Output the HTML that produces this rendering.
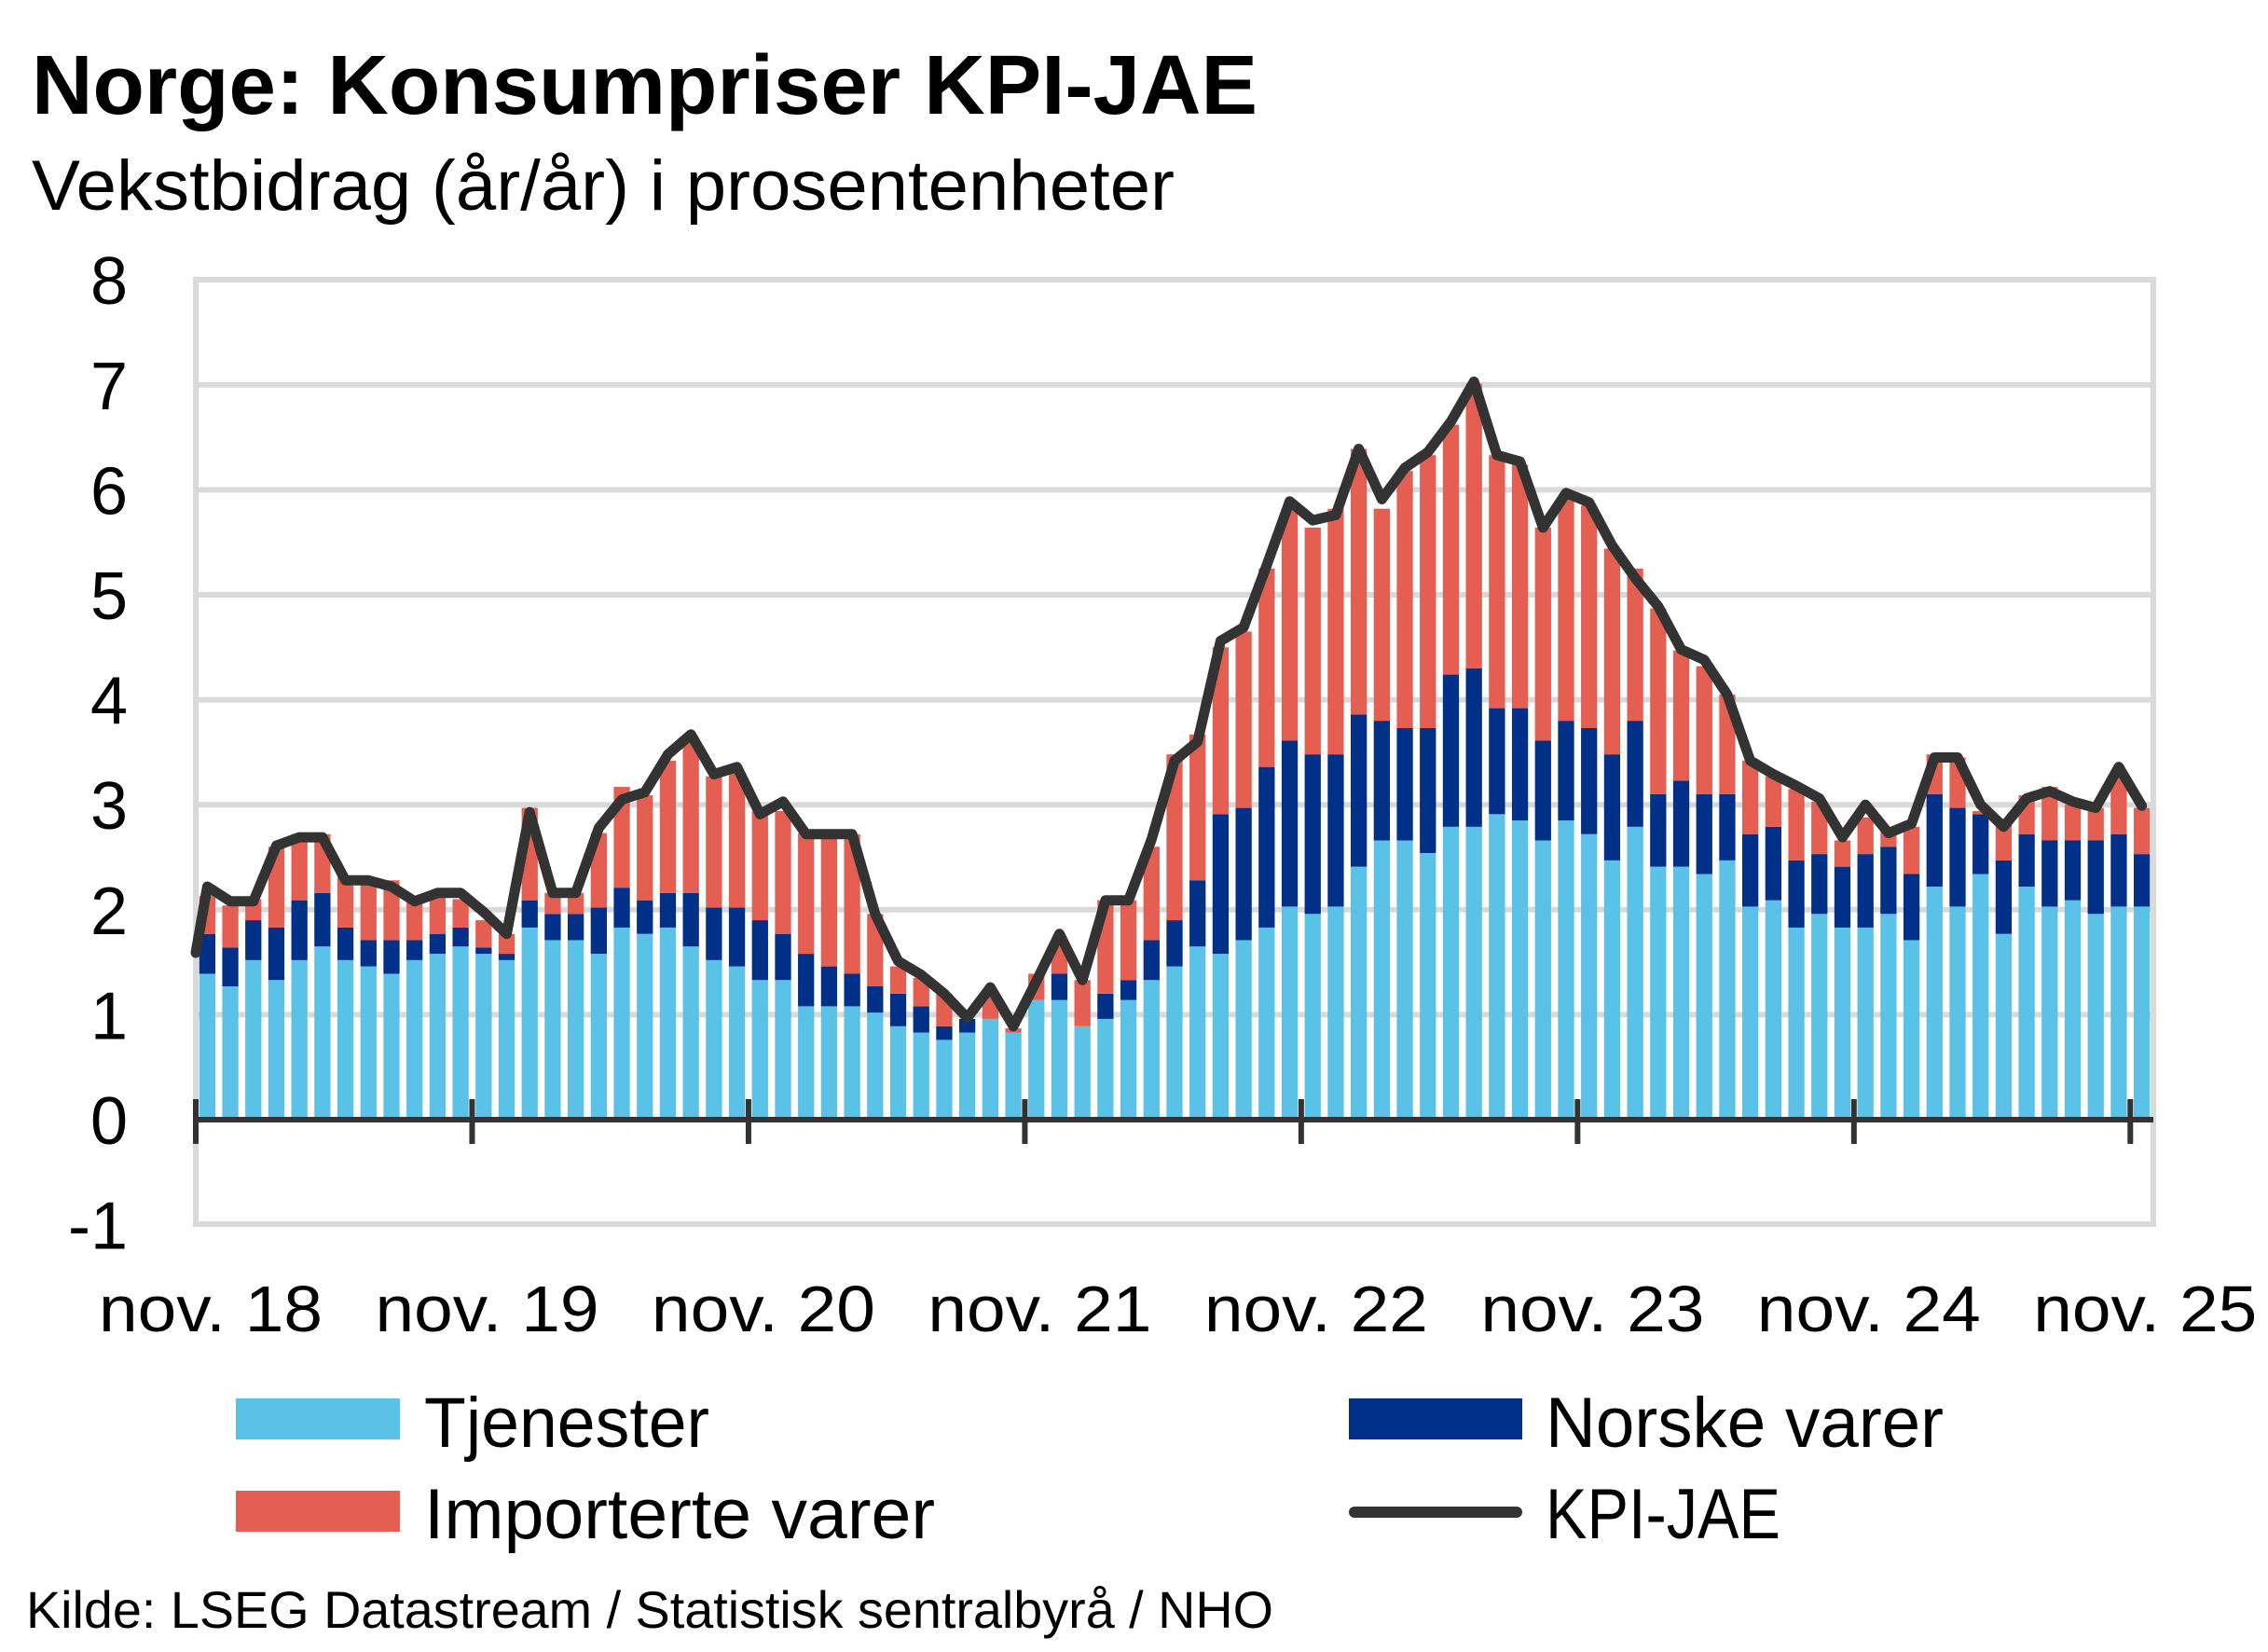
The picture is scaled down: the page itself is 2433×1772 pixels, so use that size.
<!DOCTYPE html>
<html><head><meta charset="utf-8">
<style>
html,body{margin:0;padding:0;background:#fff;}
svg{display:block;font-family:"Liberation Sans",sans-serif;}
</style></head>
<body>
<svg id="c" width="2433" height="1772" viewBox="0 0 2433 1772" xmlns="http://www.w3.org/2000/svg">
<rect width="2433" height="1772" fill="#fff"/>
<text x="34" y="122" font-size="90" font-weight="bold" fill="#000" textLength="1315" lengthAdjust="spacingAndGlyphs">Norge:  Konsumpriser KPI-JAE</text>
<text x="34" y="225" font-size="76" fill="#000" textLength="1226" lengthAdjust="spacingAndGlyphs">Vekstbidrag (år/år) i prosentenheter</text>
<g id="grid"></g>
<g id="bars"></g>
<rect x="210" y="300" width="2100" height="1013" fill="none" stroke="#d9d9d9" stroke-width="6"/>
<g id="axis"></g>
<g id="line"></g>
<g id="ylab" font-size="72" fill="#000" text-anchor="end"></g>
<g id="xlab" font-size="70" fill="#000" text-anchor="middle"></g>
<rect x="253" y="1500" width="176" height="44" fill="#5BC2E7"/>
<text x="455" y="1552" font-size="76" textLength="306" lengthAdjust="spacingAndGlyphs">Tjenester</text>
<rect x="253" y="1599" width="176" height="44" fill="#E45F52"/>
<text x="455" y="1650" font-size="76" textLength="548" lengthAdjust="spacingAndGlyphs">Importerte varer</text>
<rect x="1447" y="1500" width="186" height="44" fill="#003087"/>
<text x="1658" y="1552" font-size="76" textLength="427" lengthAdjust="spacingAndGlyphs">Norske varer</text>
<line x1="1453" y1="1622" x2="1627" y2="1622" stroke="#333" stroke-width="12" stroke-linecap="round"/>
<text x="1658" y="1650" font-size="76" textLength="252" lengthAdjust="spacingAndGlyphs">KPI-JAE</text>
<text x="28" y="1746" font-size="56" textLength="1338" lengthAdjust="spacingAndGlyphs">Kilde: LSEG Datastream / Statistisk sentralbyrå / NHO</text>
</svg>
<script>
var T=[1.39,1.27,1.52,1.33,1.52,1.65,1.52,1.46,1.39,1.52,1.58,1.65,1.58,1.52,1.83,1.71,1.71,1.58,1.83,1.77,1.83,1.65,1.52,1.46,1.33,1.33,1.08,1.08,1.08,1.02,0.89,0.83,0.76,0.83,0.96,0.83,1.14,1.14,0.89,0.96,1.14,1.33,1.46,1.65,1.58,1.71,1.83,2.03,1.96,2.03,2.41,2.66,2.66,2.54,2.79,2.79,2.91,2.85,2.66,2.85,2.72,2.47,2.79,2.41,2.41,2.34,2.47,2.03,2.09,1.83,1.96,1.83,1.83,1.96,1.71,2.22,2.03,2.34,1.77,2.22,2.03,2.09,1.96,2.03,2.03];
var N=[1.77,1.64,1.90,1.83,2.09,2.16,1.83,1.71,1.71,1.71,1.77,1.83,1.64,1.58,2.09,1.96,1.96,2.02,2.21,2.09,2.16,2.16,2.02,2.02,1.90,1.77,1.58,1.46,1.39,1.27,1.20,1.08,0.89,0.96,0.96,0.83,1.14,1.39,0.89,1.20,1.33,1.71,1.90,2.28,2.91,2.97,3.36,3.61,3.48,3.48,3.86,3.80,3.73,3.73,4.24,4.30,3.92,3.92,3.61,3.80,3.73,3.48,3.80,3.10,3.23,3.10,3.10,2.72,2.79,2.47,2.53,2.41,2.53,2.60,2.34,3.10,2.97,2.91,2.47,2.72,2.66,2.66,2.66,2.72,2.53];
var I=[2.13,2.04,2.10,2.60,2.72,2.72,2.31,2.25,2.28,2.10,2.16,2.10,1.90,1.77,2.97,2.16,2.16,2.73,3.17,3.09,3.42,3.60,3.27,3.30,2.94,2.94,2.73,2.72,2.72,1.96,1.46,1.35,1.20,0.96,1.20,0.87,1.39,1.65,1.33,2.09,2.09,2.60,3.48,3.67,4.50,4.65,5.25,5.82,5.64,5.82,6.39,5.82,6.18,6.33,6.62,7.01,6.33,6.24,5.64,5.94,5.85,5.44,5.25,4.87,4.47,4.32,4.05,3.42,3.27,3.15,3.03,2.66,2.88,2.76,2.79,3.48,3.45,2.94,2.82,3.09,3.17,3.00,2.97,3.30,2.97];
var L=[2.22,2.08,2.08,2.61,2.69,2.69,2.28,2.28,2.22,2.08,2.16,2.16,1.98,1.77,2.93,2.16,2.16,2.78,3.05,3.12,3.48,3.67,3.29,3.36,2.91,3.03,2.72,2.72,2.72,1.96,1.51,1.38,1.20,0.97,1.26,0.89,1.32,1.77,1.33,2.09,2.09,2.67,3.42,3.60,4.56,4.69,5.28,5.89,5.71,5.76,6.39,5.91,6.21,6.36,6.65,7.03,6.33,6.27,5.64,5.97,5.88,5.47,5.16,4.89,4.48,4.38,4.05,3.42,3.29,3.18,3.06,2.69,3.00,2.73,2.82,3.45,3.45,3.00,2.79,3.06,3.13,3.03,2.97,3.36,2.99];
var NS="http://www.w3.org/2000/svg";
function el(p,t,a,txt){var e=document.createElementNS(NS,t);for(var k in a)e.setAttribute(k,a[k]);if(txt!==undefined)e.textContent=txt;document.getElementById(p).appendChild(e);return e;}
var X0=210,W=2100/85;
function Y(v){return 1201-112.6*v;}
for(var g=1;g<=7;g++){el("grid","line",{x1:210,x2:2310,y1:Y(g),y2:Y(g),stroke:"#d9d9d9","stroke-width":6});}
var bw=W*0.7;
for(var i=0;i<85;i++){
 var cx=X0+W*(i+0.5),x=cx-bw/2;
 el("bars","rect",{x:x,y:Y(T[i]),width:bw,height:Y(0)-Y(T[i]),fill:"#5BC2E7"});
 if(N[i]>T[i])el("bars","rect",{x:x,y:Y(N[i]),width:bw,height:Y(T[i])-Y(N[i]),fill:"#003087"});
 var b=Math.max(N[i],T[i]);
 if(I[i]>b)el("bars","rect",{x:x,y:Y(I[i]),width:bw,height:Y(b)-Y(I[i]),fill:"#E45F52"});
}
el("axis","line",{x1:210,x2:2310,y1:Y(0),y2:Y(0),stroke:"#333","stroke-width":6});
var labs=["nov. 18","nov. 19","nov. 20","nov. 21","nov. 22","nov. 23","nov. 24","nov. 25"];
for(var k=0;k<8;k++){
 var tx=X0+W*12*k;
 el("axis","line",{x1:tx,x2:tx,y1:Y(0)-22,y2:Y(0)+26,stroke:"#333","stroke-width":6});
 el("xlab","text",{x:tx+16,y:1428,textLength:240,lengthAdjust:"spacingAndGlyphs"},labs[k]);
}
var pts=[[X0,Y(1.59)]];
for(var i=0;i<85;i++)pts.push([X0+W*(i+0.5),Y(L[i])]);
el("line","polyline",{points:pts.map(function(p){return p[0].toFixed(1)+","+p[1].toFixed(1)}).join(" "),fill:"none",stroke:"#333","stroke-width":11,"stroke-linejoin":"round","stroke-linecap":"round"});
for(var v=-1;v<=8;v++){el("ylab","text",{x:137,y:Y(v)+26},String(v));}
</script>
</body></html>
